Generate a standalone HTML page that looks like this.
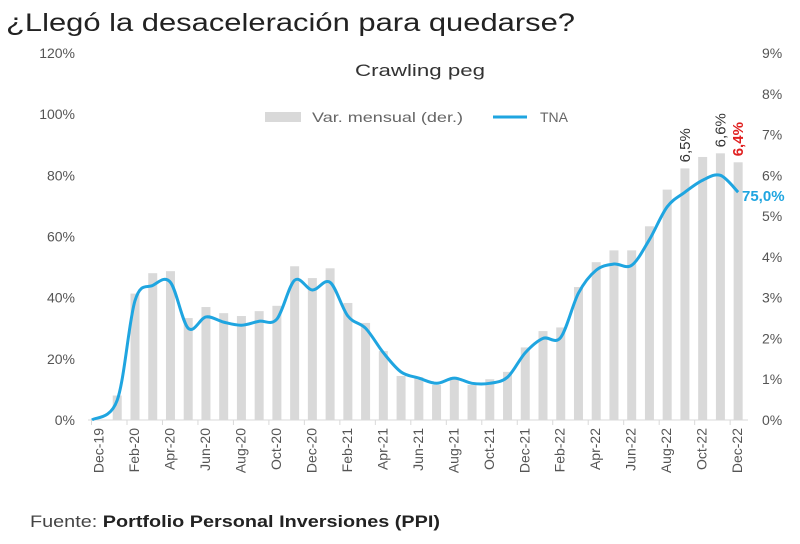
<!DOCTYPE html>
<html><head><meta charset="utf-8"><style>
body{margin:0;background:#fff;font-family:"Liberation Sans",sans-serif;}
svg text{font-family:"Liberation Sans",sans-serif;}
</style></head><body>
<svg id="chart" width="800" height="539" xmlns="http://www.w3.org/2000/svg">
<text x="6" y="31" font-size="25" fill="#222" textLength="569" lengthAdjust="spacingAndGlyphs">¿Llegó la desaceleración para quedarse?</text>
<text x="355" y="76" font-size="17" fill="#333" textLength="130" lengthAdjust="spacingAndGlyphs">Crawling peg</text>
<rect x="265" y="112" width="36" height="10" fill="#d9d9d9"/>
<text x="312" y="122" font-size="14" fill="#666" textLength="151" lengthAdjust="spacingAndGlyphs">Var. mensual (der.)</text>
<line x1="493" y1="117" x2="527" y2="117" stroke="#1fa5e0" stroke-width="3"/>
<text x="540" y="122" font-size="14" fill="#666">TNA</text>
<g id="bars"></g><g id="axes"></g><g id="line"></g><g id="labels"></g>
<text x="30" y="527" font-size="17" fill="#444" textLength="410" lengthAdjust="spacingAndGlyphs">Fuente: <tspan font-weight="bold" fill="#222">Portfolio Personal Inversiones (PPI)</tspan></text>
</svg>
<script>
const months=["Dec-19","Jan-20","Feb-20","Mar-20","Apr-20","May-20","Jun-20","Jul-20","Aug-20","Sep-20","Oct-20","Nov-20","Dec-20","Jan-21","Feb-21","Mar-21","Apr-21","May-21","Jun-21","Jul-21","Aug-21","Sep-21","Oct-21","Nov-21","Dec-21","Jan-22","Feb-22","Mar-22","Apr-22","May-22","Jun-22","Jul-22","Aug-22","Sep-22","Oct-22","Nov-22","Dec-22"];
const monthlyVar=[null,0.6,3.1,3.6,3.65,2.5,2.77,2.62,2.55,2.67,2.8,3.77,3.48,3.72,2.87,2.38,1.69,1.08,1.05,0.86,1.05,0.86,1.0,1.18,1.78,2.18,2.27,3.26,3.87,4.16,4.16,4.75,5.65,6.17,6.45,6.54,6.32];
const tna=[0,6.5,39,44,45,30,33.7,32,31,32.3,33,45.7,42.5,45,34,30,22,15.7,13.7,12,13.7,12,12,14,22,26.7,27,41.5,49,51,50.6,59,69.7,74.5,78.4,80,74.5];
const leftTicks=[0,20,40,60,80,100,120];
const rightTicks=[0,1,2,3,4,5,6,7,8,9];
const ns="http://www.w3.org/2000/svg";
const x0=99.5,dx=17.74,y0=420,yTop=53;
const xs=i=>x0+i*dx;
const yL=v=>y0-(v/120)*(y0-yTop);
const yR=v=>y0-(v/9)*(y0-yTop);
function mk(tag,attrs,parent,txt){const e=document.createElementNS(ns,tag);for(const k in attrs)e.setAttribute(k,attrs[k]);if(txt!==undefined)e.textContent=txt;document.getElementById(parent).appendChild(e);return e;}
monthlyVar.forEach((v,i)=>{if(v==null)return;
const r=mk('rect',{x:xs(i)-4.5,y:yR(v),width:9,height:y0-yR(v),fill:'#d9d9d9'},'bars');

});
const ax=mk('line',{x1:88,y1:y0,x2:748,y2:y0,stroke:'#d9d9d9','stroke-width':1},'axes');


leftTicks.forEach(t=>{const e=mk('text',{x:75,y:yL(t)+5,'font-size':14,fill:'#555','text-anchor':'end'},'axes',t+'%');

});
rightTicks.forEach(t=>{const e=mk('text',{x:762,y:yR(t)+5,'font-size':14,fill:'#555'},'axes',t+'%');

});
months.forEach((m,i)=>{if(i%2)return;
const tk=mk('line',{x1:xs(i)-8,y1:y0,x2:xs(i)-8,y2:y0+5,stroke:'#d9d9d9'},'axes');


const e=mk('text',{x:0,y:0,'font-size':14,fill:'#555','text-anchor':'end',transform:`translate(${xs(i)+4},${y0+8}) rotate(-90)`},'axes',m);

});
const pts=tna.map((v,i)=>[xs(i),yL(v)]);
pts[0][0]=92;
let d=`M${pts[0][0]},${pts[0][1]}`;
for(let i=0;i<pts.length-1;i++){const p0=pts[Math.max(i-1,0)],p1=pts[i],p2=pts[i+1],p3=pts[Math.min(i+2,pts.length-1)];
d+=` C${p1[0]+(p2[0]-p0[0])/6},${p1[1]+(p2[1]-p0[1])/6} ${p2[0]-(p3[0]-p1[0])/6},${p2[1]-(p3[1]-p1[1])/6} ${p2[0]},${p2[1]}`;}
const ln=mk('path',{d:d,fill:'none',stroke:'#1fa5e0','stroke-width':3,'stroke-linejoin':'round'},'line');


const anns=[[33,"6,5%","#333"],[35,"6,6%","#333"],[36,"6,4%","#e02020"]];
anns.forEach(a=>{const e=mk('text',{x:0,y:0,'font-size':15,fill:a[2],'font-weight':a[2]=="#e02020"?'bold':'normal',transform:`translate(${xs(a[0])+5},${yR(monthlyVar[a[0]])-6}) rotate(-90)`},'labels',a[1]);

});
const tl=mk('text',{x:742,y:yL(tna[36])+9,'font-size':15,fill:'#1fa5e0','font-weight':'bold'},'labels',"75,0%");


</script>
</body></html>
